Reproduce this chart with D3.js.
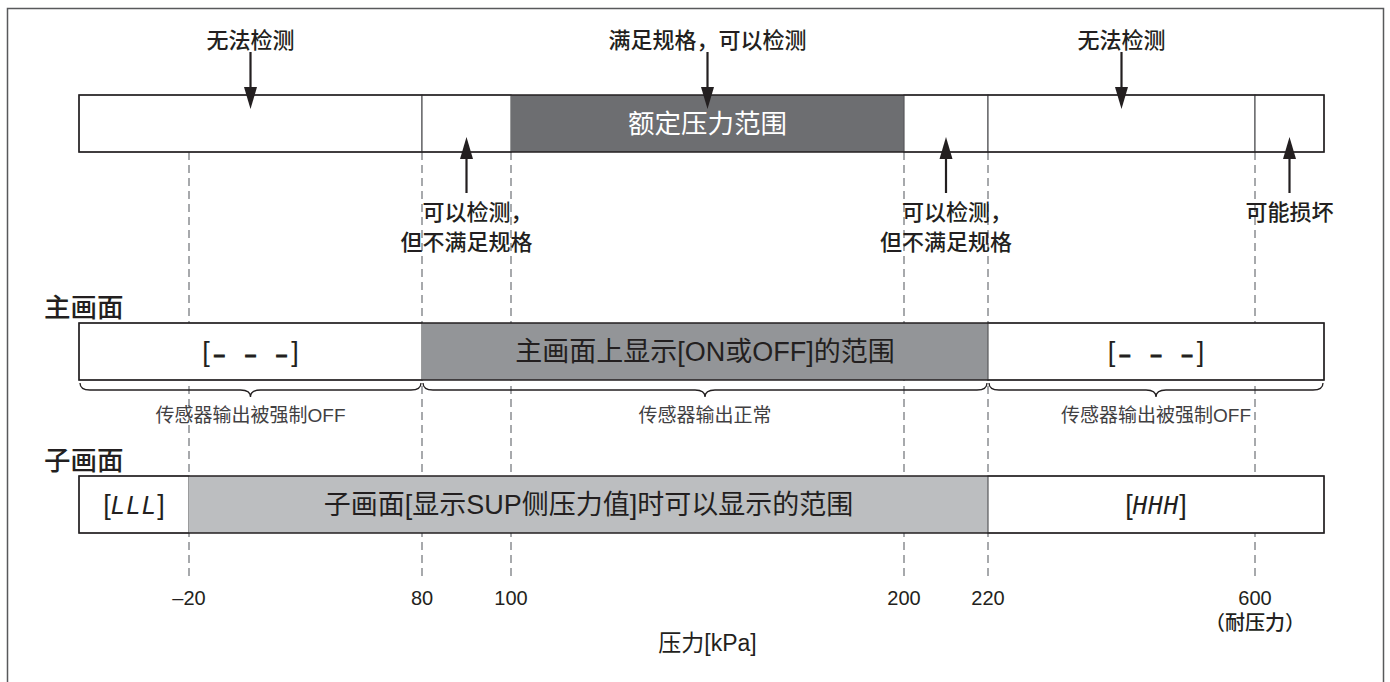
<!DOCTYPE html>
<html>
<head>
<meta charset="utf-8">
<script src="https://cdn.jsdelivr.net/npm/d3@7"></script>
<style>
  body { margin: 0; background: #fff; }
  text { font-family: 'Liberation Sans', 'Noto Sans CJK SC', sans-serif; fill: #231f20; }
</style>
</head>
<body>
<div id="chart"></div>
<script>
// data
var stops = [-70, -20, 80, 100, 200, 220, 600, 700]   // first and last are the drawn ends of the bars
var breaks = [-20, 80, 100, 200, 220, 600]
var tickLabels = ['–20', '80', '100', '200', '220', '600']
var tickNotes = ['', '', '', '', '', '（耐压力）']

var topSegs = [
    { from: -70, to: 80, label: '', fill: 'white' },
    { from: 80, to: 100, label: '', fill: 'white' },
    { from: 100, to: 200, label: '额定压力范围', fill: 'dark' },
    { from: 200, to: 220, label: '', fill: 'white' },
    { from: 220, to: 600, label: '', fill: 'white' },
    { from: 600, to: 700, label: '', fill: 'white' },
]
var downNotes = [
    { from: -70, to: 80, lines: ['无法检测'] },
    { from: 100, to: 200, lines: ['满足规格，可以检测'] },
    { from: 220, to: 600, lines: ['无法检测'] },
]
var upNotes = [
    { from: 80, to: 100, lines: ['可以检测，', '但不满足规格'] },
    { from: 200, to: 220, lines: ['可以检测，', '但不满足规格'] },
    { from: 600, to: 700, lines: ['可能损坏'] },
]
// display codes are written as [bracket, inner, bracket]
var mainSegs = [
    { from: -70, to: 80, label: ['[', '\u2009–\u2003–\u2003–\u2009', ']'], fill: 'white' },
    { from: 80, to: 220, label: ['', '主画面上显示[ON或OFF]的范围', ''], fill: 'mid' },
    { from: 220, to: 700, label: ['[', '\u2009–\u2003–\u2003–\u2009', ']'], fill: 'white' },
]
var outSegs = [
    { from: -70, to: 80, label: '传感器输出被强制OFF' },
    { from: 80, to: 220, label: '传感器输出正常' },
    { from: 220, to: 700, label: '传感器输出被强制OFF' },
]
var subSegs = [
    { from: -70, to: -20, label: ['[', 'LLL', ']'], fill: 'white' },
    { from: -20, to: 220, label: ['', '子画面[显示SUP侧压力值]时可以显示的范围', ''], fill: 'light' },
    { from: 220, to: 700, label: ['[', 'HHH', ']'], fill: 'white' },
]
var rowTitles = ['主画面', '子画面']
var axisTitle = '压力[kPa]'

// svg
var w = 1390,
    h = 682

var colors = { white: '#ffffff', dark: '#6d6e71', mid: '#939598', light: '#bcbec0' }

var svg = d3.select('#chart')
    .append('svg')
    .attr('width', w)
    .attr('height', h)

// piecewise scale, the diagram is not drawn to scale
var x = d3.scaleLinear()
    .domain(stops)
    .range([79, 189, 422, 511, 904, 988, 1255, 1324])

var mid = d => (x(d.from) + x(d.to)) / 2

// rows
var rows = { top: [95, 152], main: [323, 380], sub: [476, 533] }

// frame
svg.append('rect')
    .attr('x', 7.5)
    .attr('y', 8.5)
    .attr('width', 1376)
    .attr('height', 690)
    .attr('fill', 'none')
    .attr('stroke', '#58595b')
    .attr('stroke-width', 1.5)

// dashed guide lines
svg.selectAll('.guide')
    .data(breaks)
    .enter()
    .append('line')
    .attr('class', 'guide')
    .attr('x1', d => x(d))
    .attr('x2', d => x(d))
    .attr('y1', rows.top[1])
    .attr('y2', 578)
    .attr('stroke', '#a7a9ac')
    .attr('stroke-width', 2)
    .attr('stroke-dasharray', '8,5')

function bar(segs, row, cls) {
    var g = svg.append('g').attr('class', cls)
    g.selectAll('rect')
        .data(segs)
        .enter()
        .append('rect')
        .attr('x', d => x(d.from))
        .attr('y', row[0])
        .attr('width', d => x(d.to) - x(d.from))
        .attr('height', row[1] - row[0])
        .attr('fill', d => colors[d.fill])
        .attr('stroke', d => d.fill == 'white' ? '#58595b' : 'none')
        .attr('stroke-width', 1.2)
    // outline on top
    g.append('rect')
        .attr('x', x(stops[0]))
        .attr('y', row[0])
        .attr('width', x(stops[stops.length - 1]) - x(stops[0]))
        .attr('height', row[1] - row[0])
        .attr('fill', 'none')
        .attr('stroke', '#231f20')
        .attr('stroke-width', 1.5)
    return g
}

// segment labels, with an optional styled middle part
function segLabels(g, segs, row, innerStyle) {
    var t = g.selectAll('text')
        .data(segs)
        .enter()
        .append('text')
        .attr('x', mid)
        .attr('y', (row[0] + row[1]) / 2)
        .attr('dy', '0.36em')
        .attr('text-anchor', 'middle')
        .attr('font-size', 27)
    t.append('tspan').text(d => d.label[0]).attr('font-weight', 300)
    t.append('tspan').text(d => d.label[1])
        .each(function (d) {
            if (d.fill == 'white') innerStyle(d3.select(this))
        })
    t.append('tspan').text(d => d.label[2]).attr('font-weight', 300)
    return t
}

// top bar
var gTop = bar(topSegs, rows.top, 'top')
gTop.selectAll('text')
    .data(topSegs.filter(d => d.label))
    .enter()
    .append('text')
    .text(d => d.label)
    .attr('x', mid)
    .attr('y', (rows.top[0] + rows.top[1]) / 2)
    .attr('dy', '0.36em')
    .attr('text-anchor', 'middle')
    .attr('font-size', 26.5)
    .style('fill', '#fff')

// arrows
function arrow(xp, y0, y1) {
    var dir = y1 > y0 ? 1 : -1
    svg.append('line')
        .attr('x1', xp).attr('x2', xp)
        .attr('y1', y0).attr('y2', y1 - dir * 18)
        .attr('stroke', '#231f20')
        .attr('stroke-width', 2.2)
    svg.append('path')
        .attr('d', d3.line()([[xp - 6.5, y1 - dir * 22], [xp + 6.5, y1 - dir * 22], [xp, y1]]) + 'Z')
        .attr('fill', '#231f20')
}

downNotes.forEach(d => {
    arrow(mid(d), 52, 109)
    svg.append('text')
        .text(d.lines[0])
        .attr('x', mid(d))
        .attr('y', 40)
        .attr('dy', '0.36em')
        .attr('text-anchor', 'middle')
        .attr('font-size', 22)
        .attr('font-weight', 500)
})

upNotes.forEach(d => {
    arrow(mid(d), 193, 137)
    d.lines.forEach((l, i) => {
        svg.append('text')
            .text(l)
            .attr('x', mid(d) + (l.endsWith('，') ? 11 : 0))
            .attr('y', 212 + i * 30)
            .attr('dy', '0.36em')
            .attr('text-anchor', 'middle')
            .attr('font-size', 22)
            .attr('font-weight', 500)
    })
})

// row titles
svg.selectAll('.rowtitle')
    .data(rowTitles)
    .enter()
    .append('text')
    .attr('class', 'rowtitle')
    .text(d => d)
    .attr('x', 44)
    .attr('y', (d, i) => [307, 460][i])
    .attr('dy', '0.36em')
    .attr('font-size', 26.5)
    .attr('font-weight', 500)

// main screen bar
var gMain = bar(mainSegs, rows.main, 'main')
segLabels(gMain, mainSegs, rows.main, s => s.attr('font-weight', 'bold').attr('font-size', 20)
    .style('stroke', '#231f20').style('stroke-width', 1.1))

// braces
function brace(x1, x2, y, hh) {
    var m = (x1 + x2) / 2, r = 10
    var p = d3.path()
    p.moveTo(x1, y)
    p.quadraticCurveTo(x1, y + hh * 0.5, x1 + r, y + hh * 0.5)
    p.lineTo(m - r, y + hh * 0.5)
    p.quadraticCurveTo(m, y + hh * 0.5, m, y + hh)
    p.quadraticCurveTo(m, y + hh * 0.5, m + r, y + hh * 0.5)
    p.lineTo(x2 - r, y + hh * 0.5)
    p.quadraticCurveTo(x2, y + hh * 0.5, x2, y)
    return p.toString()
}

svg.selectAll('.brace')
    .data(outSegs)
    .enter()
    .append('path')
    .attr('class', 'brace')
    .attr('d', d => brace(x(d.from) + 1, x(d.to) - 1, 383, 14))
    .attr('fill', 'none')
    .attr('stroke', '#231f20')
    .attr('stroke-width', 1.3)

svg.selectAll('.outlabel')
    .data(outSegs)
    .enter()
    .append('text')
    .attr('class', 'outlabel')
    .text(d => d.label)
    .attr('x', mid)
    .attr('y', 415)
    .attr('dy', '0.36em')
    .attr('text-anchor', 'middle')
    .attr('font-size', 19)
    .style('fill', '#414042')

// sub screen bar
var gSub = bar(subSegs, rows.sub, 'sub')
segLabels(gSub, subSegs, rows.sub, s => s.attr('font-style', 'italic').attr('font-weight', 300)
    .attr('font-family', 'DejaVu Sans Mono').attr('font-size', 24).attr('letter-spacing', 1))

// tick labels
svg.selectAll('.tick')
    .data(breaks)
    .enter()
    .append('text')
    .attr('class', 'tick')
    .text((d, i) => tickLabels[i])
    .attr('x', d => x(d))
    .attr('y', 598)
    .attr('dy', '0.36em')
    .attr('text-anchor', 'middle')
    .attr('font-size', 20)

svg.selectAll('.note')
    .data(breaks)
    .enter()
    .append('text')
    .attr('class', 'note')
    .text((d, i) => tickNotes[i])
    .attr('x', d => x(d))
    .attr('y', 623)
    .attr('dy', '0.36em')
    .attr('text-anchor', 'middle')
    .attr('font-size', 20)
    .attr('font-weight', 500)

// axis title
svg.append('text')
    .text(axisTitle)
    .attr('x', x(100) + (x(200) - x(100)) / 2)
    .attr('y', 643)
    .attr('dy', '0.36em')
    .attr('text-anchor', 'middle')
    .attr('font-size', 23)
</script>
</body>
</html>
